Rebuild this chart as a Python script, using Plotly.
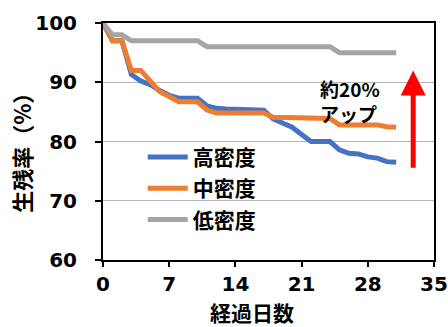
import plotly.graph_objects as go

# 経過日数 (days)
days = list(range(0, 32))

# 生残率 (%) for each stocking density
high_density = [100, 97, 97, 91.3, 90.2, 89.6, 88.6, 87.8, 87.3, 87.3, 87.3, 86.0,
                85.6, 85.5, 85.5, 85.5, 85.4, 85.3, 83.8, 83.0, 82.4, 81.2, 80.0, 80.0,
                80.0, 78.6, 78.0, 77.9, 77.4, 77.2, 76.6, 76.5]
mid_density = [100, 97, 97, 92.0, 92.0, 90.2, 88.4, 87.6, 86.7, 86.7, 86.7, 85.3,
               84.8, 84.8, 84.8, 84.8, 84.8, 84.8, 84.1, 84.1, 84.0, 84.0, 83.9, 83.9,
               83.9, 82.8, 82.8, 82.8, 82.8, 82.8, 82.5, 82.4]
low_density = [100, 98, 98, 97, 97, 97, 97, 97, 97, 97, 97, 96,
               96, 96, 96, 96, 96, 96, 96, 96, 96, 96, 96, 96,
               96, 95, 95, 95, 95, 95, 95, 95]

series_names = ["高密度", "中密度", "低密度"]
series_colors = ["#4472C4", "#ED7D31", "#A5A5A5"]

x_ticks = [0, 7, 14, 21, 28, 35]
y_ticks = [60, 70, 80, 90, 100]

NUM_FONT = "DejaVu Sans, Liberation Sans, sans-serif"
JP_FONT = "Noto Sans CJK JP, sans-serif"

fig = go.Figure()
for name, vals, color in zip(series_names, [high_density, mid_density, low_density], series_colors):
    fig.add_trace(go.Scatter(
        x=days, y=vals, name=name, mode="lines", legendgroup=name,
        line=dict(color=color, width=5),
    ))

# 約20%アップ label (two lines) and arrow
label_font = dict(family=JP_FONT, size=19, color="black", weight="bold")
fig.add_annotation(
    x=22.8, y=89.0, xref="x", yref="y", xanchor="left", yanchor="middle",
    text="約20%", showarrow=False, borderpad=0, font=label_font,
)
fig.add_annotation(
    x=22.8, y=84.8, xref="x", yref="y", xanchor="left", yanchor="middle",
    text="アップ", showarrow=False, borderpad=0, font=label_font,
)
fig.add_annotation(
    x=32.8, y=92.0, ax=32.8, ay=75.3, xref="x", yref="y", axref="x", ayref="y",
    text="", showarrow=True, arrowhead=2, arrowsize=1, arrowwidth=5,
    arrowcolor="#FF0000",
)

# axis titles
fig.add_annotation(
    x=0.45, y=-0.219, xref="paper", yref="paper", xanchor="center", yanchor="middle",
    text="経過日数", showarrow=False,
    font=dict(family=JP_FONT, size=21, color="black", weight="bold"),
)
fig.add_annotation(
    x=-0.248, y=0.477, xref="paper", yref="paper", xanchor="center", yanchor="middle",
    text="生残率（%）", showarrow=False, textangle=-90,
    font=dict(family=JP_FONT, size=22, color="black", weight="bold"),
)

fig.update_layout(
    width=448, height=327,
    margin=dict(l=103, r=14, t=23, b=67, autoexpand=False),
    paper_bgcolor="white", plot_bgcolor="white",
    showlegend=True,
    legend=dict(
        x=0.12, y=0.52, xanchor="left", yanchor="top",
        bgcolor="rgba(0,0,0,0)",
        font=dict(family=JP_FONT, size=21, color="black", weight="bold"),
        itemwidth=40, tracegroupgap=1,
    ),
    xaxis=dict(
        range=[0, 35], tickvals=x_ticks, ticktext=[str(t) for t in x_ticks],
        showgrid=False, zeroline=False, automargin=False,
        showline=True, linecolor="black", linewidth=2, mirror=True,
        ticks="outside", ticklen=5, tickwidth=2, tickcolor="black",
        ticklabelstandoff=0,
        tickfont=dict(family=NUM_FONT, size=20, color="black", weight="bold"),
    ),
    yaxis=dict(
        range=[60, 100], tickvals=y_ticks, ticktext=[str(t) for t in y_ticks],
        showgrid=True, gridcolor="#B4B4B4", gridwidth=1, zeroline=False,
        automargin=False,
        showline=True, linecolor="black", linewidth=2, mirror=True,
        ticks="outside", ticklen=6, tickwidth=2, tickcolor="black",
        ticklabelstandoff=14,
        tickfont=dict(family=NUM_FONT, size=20, color="black", weight="bold"),
    ),
)

fig.write_html("out.html")
